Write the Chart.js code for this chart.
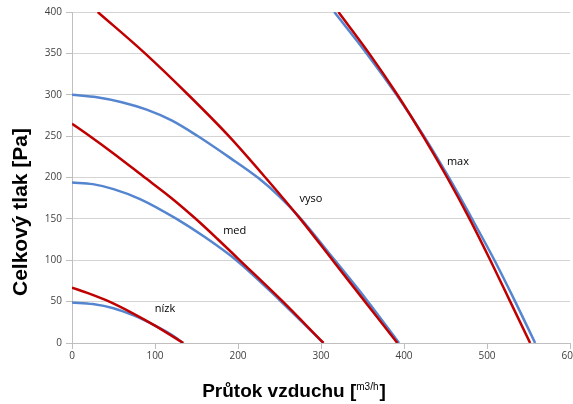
<!DOCTYPE html>
<html><head><meta charset="utf-8">
<script src="https://cdn.jsdelivr.net/npm/chart.js@4/dist/chart.umd.min.js"></script>
<style>html,body{margin:0;padding:0;background:#fff}#wrap{width:573px;height:404px}</style>
</head><body><div id="wrap"><canvas id="c" width="573" height="404"></canvas></div>
<script>
// Flow (m3/h) and pressure (Pa) readings per curve
const lowSysQ = [0, 20, 45, 75, 100, 134];
const lowSysP = [67, 60, 50, 35, 21, 0];
const lowFanQ = [0, 25, 50, 75, 100, 120, 134];
const lowFanP = [49, 47, 42, 33, 21, 10, 0];
const medSysQ = [0, 20, 50, 85, 120, 148, 175, 200, 252, 303];
const medSysP = [265, 251, 229, 202, 175, 151, 126, 102, 52, 0];
const medFanQ = [0, 25, 50, 82, 126, 160, 198, 250, 303];
const medFanP = [194, 192, 186, 174, 150, 128, 100, 52, 0];
const highSysQ = [31, 88, 140, 189, 233, 275, 314, 353, 392];
const highSysP = [400, 350, 300, 250, 200, 150, 100, 50, 0];
const highFanQ = [0, 30, 60, 90, 120, 150, 190, 225, 250, 275, 315, 355, 394];
const highFanP = [300, 297, 291, 282, 269, 251, 224, 199, 177, 151, 102, 52, 0];
const maxSysQ = [321, 358, 392, 423, 452, 479, 504, 528, 552];
const maxSysP = [400, 350, 300, 250, 200, 150, 100, 50, 0];
const maxFanQ = [316, 355, 391, 424, 454, 482, 509, 534, 558];
const maxFanP = [400, 350, 300, 250, 200, 150, 100, 50, 0];
// Curve labels
const curveNames = ["nízk", "med", "vyso", "max"];
const curveLabelQ = [112, 196, 288, 465];
const curveLabelP = [41, 135, 174, 219];
// Axes
const xTicks = [0, 100, 200, 300, 400, 500, 600];
const yTicks = [0, 50, 100, 150, 200, 250, 300, 350, 400];
const yTitle = "Celkový tlak [Pa]";
const xTitleMain = "Průtok vzduchu [";
const xTitleSup = "m3/h";
const xTitleEnd = "]";

const RED = "#c00000", BLUE = "#5585cf";
function pts(q, p) { return q.map((v, i) => ({ x: v, y: p[i] })); }
function ds(q, p, color, order) {
  return { data: pts(q, p), borderColor: color, borderWidth: 2.5, showLine: true, pointRadius: 0,
           cubicInterpolationMode: 'monotone', fill: false, order: order };
}
const datasets = [
  ds(lowFanQ, lowFanP, BLUE, 2), ds(medFanQ, medFanP, BLUE, 2), ds(highFanQ, highFanP, BLUE, 2), ds(maxFanQ, maxFanP, BLUE, 2),
  ds(lowSysQ, lowSysP, RED, 1), ds(medSysQ, medSysP, RED, 1), ds(highSysQ, highSysP, RED, 1), ds(maxSysQ, maxSysP, RED, 1)
];

const decor = {
  id: 'decor',
  afterDatasetsDraw(chart) {
    const ctx = chart.ctx, xs = chart.scales.x, ys = chart.scales.y;
    ctx.save();
    ctx.font = '11px "Open Sans", sans-serif';
    ctx.textAlign = 'center'; ctx.textBaseline = 'middle';
    curveNames.forEach((n, i) => {
      const px = xs.getPixelForValue(curveLabelQ[i]), py = ys.getPixelForValue(curveLabelP[i]);
      const w = ctx.measureText(n).width;
      ctx.fillStyle = '#fff'; ctx.fillRect(px - w / 2 - 2, py - 7, w + 4, 14);
      ctx.fillStyle = '#000'; ctx.fillText(n, px, py);
    });
    ctx.restore();
  },
  afterDraw(chart) {
    const ctx = chart.ctx;
    ctx.save();
    ctx.fillStyle = '#000';
    ctx.font = 'bold 21px "Liberation Sans", Arial, sans-serif';
    ctx.textAlign = 'center'; ctx.textBaseline = 'middle';
    ctx.translate(21, 212); ctx.rotate(-Math.PI / 2);
    ctx.fillText(yTitle, 0, 0);
    ctx.restore();
    ctx.save();
    ctx.fillStyle = '#000';
    ctx.textBaseline = 'alphabetic'; ctx.textAlign = 'left';
    const fMain = 'bold 19px "Liberation Sans", Arial, sans-serif';
    const fSup = '10px "Liberation Sans", Arial, sans-serif';
    ctx.font = fMain; const w1 = ctx.measureText(xTitleMain).width; const w3 = ctx.measureText(xTitleEnd).width;
    ctx.font = fSup; const w2 = ctx.measureText(xTitleSup).width;
    let x0 = 294 - (w1 + w2 + w3 + 1) / 2; const base = 397;
    ctx.font = fMain; ctx.fillText(xTitleMain, x0, base); x0 += w1;
    ctx.font = fSup; ctx.fillText(xTitleSup, x0, base - 7); x0 += w2 + 1;
    ctx.font = fMain; ctx.fillText(xTitleEnd, x0, base);
    ctx.restore();
  }
};

new Chart(document.getElementById('c'), {
  type: 'scatter',
  data: { datasets },
  plugins: [decor],
  options: {
    responsive: false, animation: false,
    layout: { autoPadding: false, padding: { top: 12, right: 3, left: 0, bottom: 0 } },
    plugins: { legend: { display: false }, tooltip: { enabled: false } },
    scales: {
      x: {
        type: 'linear', min: 0, max: 600,
        afterBuildTicks: s => { s.ticks = xTicks.map(v => ({ value: v })); },
        afterFit: s => { s.height = 61; s.paddingRight = 0; s.paddingLeft = 0; },
        grid: { display: true, drawOnChartArea: false, color: '#bfbfbf', tickLength: 6 },
        border: { color: '#bfbfbf' },
        ticks: { color: '#404040', font: { size: 10, family: '"Open Sans", sans-serif' }, padding: 1, maxRotation: 0 }
      },
      y: {
        type: 'linear', min: 0, max: 400,
        afterBuildTicks: s => { s.ticks = yTicks.map(v => ({ value: v })); },
        afterFit: s => { s.width = 72; s.paddingTop = 0; s.paddingBottom = 0; },
        grid: { color: '#d4d4d4', tickLength: 6, tickColor: '#bfbfbf' },
        border: { color: '#bfbfbf' },
        ticks: { color: '#404040', font: { size: 10, family: '"Open Sans", sans-serif' }, padding: 4 }
      }
    }
  }
});
</script></body></html>
